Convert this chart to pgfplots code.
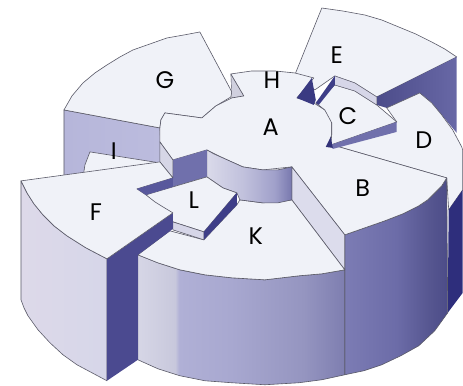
\documentclass[border=0pt]{standalone}
\usepackage{fontspec}
\setmainfont{Poppins}
\usepackage{pgfplots}
\pgfplotsset{compat=1.18}
\definecolor{topc}{HTML}{F0F2F8}
\definecolor{edge}{HTML}{5A5A68}
\definecolor{ka}{HTML}{D6D6E6}\definecolor{kb}{HTML}{C8C8DC}\definecolor{kc}{HTML}{B0B0D6}\definecolor{kd}{HTML}{A8A8D0}\definecolor{ke}{HTML}{9595C0}\definecolor{kf}{HTML}{7E7EB0}
\definecolor{ba}{HTML}{7C7CB4}\definecolor{bb}{HTML}{6C6CA8}\definecolor{bc}{HTML}{55558F}\definecolor{bd}{HTML}{4C4C88}
\definecolor{ha}{HTML}{DADAEA}\definecolor{hb}{HTML}{C0C0DC}\definecolor{hc}{HTML}{A0A0CA}\definecolor{hd}{HTML}{7878AE}
\definecolor{fa}{HTML}{DDD9E9}\definecolor{fb}{HTML}{D6D6E9}
\definecolor{ga}{HTML}{B6B6DA}\definecolor{gb}{HTML}{BCBCDE}
\definecolor{ea}{HTML}{4C4C8A}\definecolor{eb}{HTML}{6868A6}
\definecolor{dw}{HTML}{2E2E7C}
\definecolor{hw}{HTML}{D0D0DE}
\pgfdeclarehorizontalshading{kwall}{100bp}{color(0bp)=(ka); color(25bp)=(ka); color(34bp)=(kb); color(35bp)=(kc); color(47.5bp)=(kd); color(65bp)=(ke); color(75bp)=(kf); color(100bp)=(kf)}
\pgfdeclarehorizontalshading{bwall}{100bp}{color(0bp)=(ba); color(25bp)=(ba); color(50bp)=(bb); color(67bp)=(bc); color(75bp)=(bd); color(100bp)=(bd)}
\pgfdeclarehorizontalshading{hubw}{100bp}{color(0bp)=(ha); color(25bp)=(ha); color(47bp)=(hb); color(65bp)=(hc); color(75bp)=(hd); color(100bp)=(hd)}
\pgfdeclarehorizontalshading{fwall}{100bp}{color(0bp)=(fa); color(25bp)=(fa); color(75bp)=(fb); color(100bp)=(fb)}
\pgfdeclarehorizontalshading{gwall}{100bp}{color(0bp)=(ga); color(25bp)=(ga); color(75bp)=(gb); color(100bp)=(gb)}
\pgfdeclarehorizontalshading{ewall}{100bp}{color(0bp)=(ea); color(25bp)=(ea); color(75bp)=(eb); color(100bp)=(eb)}
\newcommand{\lab}[3]{\node[text=black,font=\fontsize{24}{24}\selectfont,inner sep=0pt] at (axis cs:#1,#2) {#3};}
\begin{document}
\begin{tikzpicture}
\begin{axis}[scale only axis,width=463pt,height=386pt,xmin=0,xmax=463,ymin=0,ymax=386,y dir=reverse,hide axis,clip=false,
  every axis plot/.append style={mark=none,draw=edge,line width=0.6pt,line join=round}]
% G wall
\addplot[shading=gwall] coordinates {(64,110)(160,128)(162,165)(160,185)(64,185)(64,110)} -- cycle;
% I top
\addplot[fill=topc] coordinates {(83,178)(85,165)(90,152)(160,163)(160,175)} -- cycle;
% G top
\addplot[fill=topc] coordinates {(64,110)(72,96)(83,83)(95,73)(107,65)(120,57)(133,50)(150,44)(167,38)(184,35)(200,32)(232,92)(231,97)(216,106)(202,118)(165,113)(161,120)(160,128)} -- cycle;
% E top
\addplot[fill=topc] coordinates {(322,8)(343,11)(365,15)(382,20)(399,27)(416,34)(432,42)(445,49)(457,57)(377,97)(355,83)(335,76)(315,90)(295,75)} -- cycle;
% E dark wall
\addplot[shading=ewall,draw=none] coordinates {(457,57)(377,97)(377,105)(387,108)(420,93)(432,103)(442,115)(457,133)} -- cycle;
% D top
\addplot[fill=topc] coordinates {(387,108)(420,93)(432,103)(442,115)(453,130)(462,147)(463,150)(463,190)(449,210)(447,178)(329,144)(397,122)} -- cycle;
% D wall
\addplot[fill=dw,draw=none] coordinates {(449,210)(463,190)(463,293)(448,313)} -- cycle;
% B wall
\addplot[shading=bwall] coordinates {(345,235)(365,228)(385,221)(403,214)(419,206)(428,200)(435,193)(442,186)(447,178)(448,313)(435,331)(419,346)(401,356)(382,365)(364,371)(345,375)} -- cycle;
% K wall
\addplot[shading=kwall] coordinates {(138,255)(158,263)(180,270)(205,275)(232,278)(265,280)(299,276)(322,274)(345,270)(345,375)(322,380)(299,383)(265,385)(232,383)(205,381)(180,376)(158,369)(138,360)} -- cycle;
% H small wall
\addplot[fill=hw,line width=0.4pt] coordinates {(231,74)(244,96)(232,98)} -- cycle;
% A + H + B top
\addplot[fill=topc] coordinates {(165,113)(202,118)(216,106)(232,98)(244,96)(231,74)(252,71)(275,71)(295,73)(314,78)(297,98)(314,103)(325,110)(330,116)(332,123)(332,134)(329,144)(447,178)(442,186)(435,193)(428,200)(419,206)(403,214)(385,221)(365,228)(345,235)(292,167)(263,170)(243,167)(223,158)(207,150)(173,160)(160,142)(160,128)(161,120)} -- cycle;
% B side
\addplot[fill={rgb,255:red,220;green,220;blue,236},draw=edge] coordinates {(292,167)(345,235)(345,270)(292,200)} -- cycle;
% K top
\addplot[fill=topc] coordinates {(138,255)(170,231)(204,240)(237,205)(240,200)(263,203)(292,200)(345,270)(322,274)(299,276)(265,280)(232,278)(205,275)(180,270)(158,263)} -- cycle;
% hub front wall
\addplot[shading=hubw] coordinates {(207,150)(214,154)(223,158)(243,167)(263,170)(278,170)(292,167)(292,200)(278,203)(263,203)(240,200)(237,193)(223,188)(207,177)} -- cycle;
% hub dark face
\addplot[fill={rgb,255:red,112;green,112;blue,172},draw=none] coordinates {(173,160)(207,150)(207,177)(173,187)} -- cycle;
% hub left light
\addplot[fill={rgb,255:red,214;green,214;blue,230}] coordinates {(160,142)(173,160)(173,178)(160,162)} -- cycle;
% L top
\addplot[fill=topc] coordinates {(146,195)(173,187)(207,177)(223,188)(237,193)(204,232)(173,222)(163,211)(155,203)} -- cycle;
% L front wall
\addplot[fill={rgb,255:red,214;green,214;blue,232}] coordinates {(173,222)(204,232)(204,240)(173,230)} -- cycle;
% L dark side
\addplot[fill={rgb,255:red,62;green,62;blue,136},draw=none] coordinates {(204,232)(237,193)(237,205)(204,240)} -- cycle;
% F outer wall
\addplot[shading=fwall] coordinates {(21,181)(27,193)(34,204)(43,215)(54,226)(67,236)(86,248)(107,259)(107,381)(92,373)(77,365)(63,355)(50,343)(38,330)(28,316)(24,308)(21,300)} -- cycle;
% F dark wall
\addplot[fill={rgb,255:red,75;green,74;blue,144},draw=none] coordinates {(107,259)(173,213)(173,229)(138,255)(138,360)(107,381)} -- cycle;
% F top
\addplot[fill=topc] coordinates {(21,181)(160,162)(173,178)(137,189)(146,195)(155,202)(163,207)(173,213)(107,259)(86,248)(67,236)(54,226)(43,215)(34,204)(27,193)} -- cycle;
% sliver
\addplot[fill={rgb,255:red,88;green,88;blue,156},draw=none] coordinates {(137,189)(173,178)(173,187)(146,195)} -- cycle;
% C top
\addplot[fill=topc] coordinates {(335,85)(355,91)(377,105)(397,122)(331,145)(332,134)(332,123)(325,110)(316,103)} -- cycle;
% C upper wall
\addplot[fill={rgb,255:red,214;green,214;blue,232},line width=0.4pt] coordinates {(335,76)(355,83)(377,97)(377,105)(355,91)(335,85)} -- cycle;
% C lower wall
\addplot[fill={rgb,255:red,112;green,112;blue,172},draw=none] coordinates {(331,145)(397,122)(397,132)(333,149)} -- cycle;
% slits
\addplot[fill={rgb,255:red,62;green,62;blue,136},draw=none] coordinates {(316,103)(335,76)(335,85)(319,105)} -- cycle;
\addplot[fill={rgb,255:red,58;green,58;blue,130},draw=none] coordinates {(297,98)(312,78)(316,100)(314,105)} -- cycle;
\addplot[fill={rgb,255:red,50;green,50;blue,120},draw=none] coordinates {(326,147)(331,137)(333,148)} -- cycle;
\lab{165}{80}{G}
\lab{272}{80}{H}
\lab{337}{55}{E}
\lab{348}{116}{C}
\lab{271}{127}{A}
\lab{424}{140}{D}
\lab{363}{188}{B}
\lab{194}{200}{L}
\lab{256}{236}{K}
\lab{96}{212}{F}
\lab{114}{151}{I}
\path (axis cs:0,0) -- (axis cs:463,386);
\end{axis}
\end{tikzpicture}
\end{document}
